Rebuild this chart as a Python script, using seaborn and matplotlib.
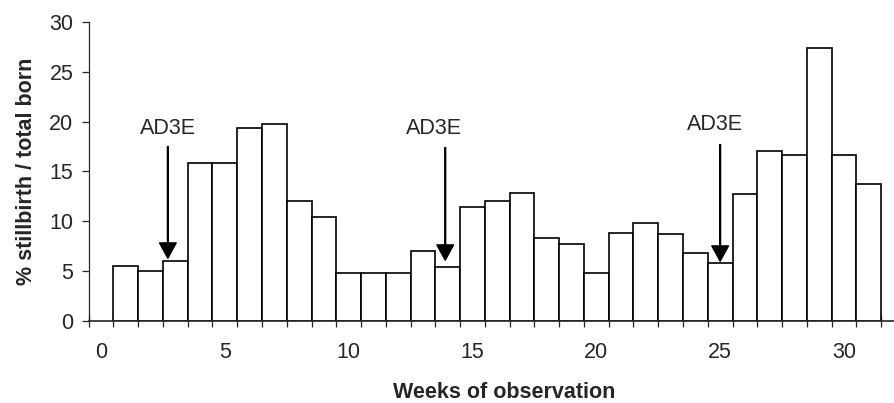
import numpy as np
import pandas as pd
import matplotlib
matplotlib.use("Agg")
import matplotlib.pyplot as plt
import seaborn as sns

# Weekly % stillbirth / total born
weeks = list(range(1, 32))
stillbirth_pct = [5.5, 5.0, 6.0, 15.9, 15.9, 19.4, 19.8, 12.0, 10.4, 4.85,
                  4.85, 4.85, 7.0, 5.4, 11.4, 12.0, 12.8, 8.3, 7.75, 4.85,
                  8.8, 9.8, 8.75, 6.85, 5.85, 12.7, 17.05, 16.7, 27.4, 16.7,
                  13.7]

# AD3E treatment markers: arrow x, arrow start/tip, label position
arrow_x = [2.7, 13.9, 25.0]
arrow_top = [17.5, 17.4, 17.7]
arrow_tip = [6.3, 6.1, 6.0]
label_x = [2.72, 13.46, 24.8]
label_y = [19.3, 19.3, 19.7]
label_text = "AD3E"

xtick_labels = [0, 5, 10, 15, 20, 25, 30]
ytick_labels = [0, 5, 10, 15, 20, 25, 30]

df = pd.DataFrame({"week": weeks, "pct": stillbirth_pct})

sns.set_style("ticks")
plt.rcParams['font.family'] = ['Liberation Sans', 'DejaVu Sans']

fig = plt.figure(figsize=(8.95, 4.03), dpi=100)
ax = fig.add_axes([0.099, 0.2035, 0.901, 0.742])

sns.barplot(data=df, x="week", y="pct", native_scale=True, width=1,
            color="white", saturation=1, edgecolor="black", linewidth=1.2,
            errorbar=None, ax=ax)

for xa, yt, yp, xl, yl in zip(arrow_x, arrow_top, arrow_tip, label_x, label_y):
    ax.annotate("", xy=(xa, yp), xytext=(xa, yt),
                arrowprops=dict(facecolor="black", edgecolor="black", width=0.6,
                                headwidth=12, headlength=11, shrink=0))
    ax.text(xl, yl, label_text, ha="center", va="center", fontsize=15.5)

ax.set_xlim(-0.5, 32.06)
ax.set_ylim(0, 30)
ax.set_xticks(xtick_labels)
ax.set_xticklabels([str(v) for v in xtick_labels], fontsize=15.5)
ax.set_xticks(np.arange(-0.5, 32, 1), minor=True)
ax.tick_params(axis="x", which="major", length=0, pad=15)
ax.tick_params(axis="x", which="minor", length=9, width=0.9, direction="inout")
ax.set_yticks(ytick_labels)
ax.set_yticklabels([str(v) for v in ytick_labels], fontsize=15.5)
ax.tick_params(axis="y", length=5, width=0.9, pad=6)

for s in ["top", "right"]:
    ax.spines[s].set_visible(False)
ax.spines["left"].set_linewidth(0.9)
ax.spines["bottom"].set_linewidth(1.2)

ax.set_xlabel("Weeks of observation", fontsize=15.5, fontweight="bold",
              labelpad=14, x=0.515)
ax.set_ylabel("% stillbirth / total born", fontsize=15.5, fontweight="bold", labelpad=9)

fig.savefig("out.png", dpi=100)
